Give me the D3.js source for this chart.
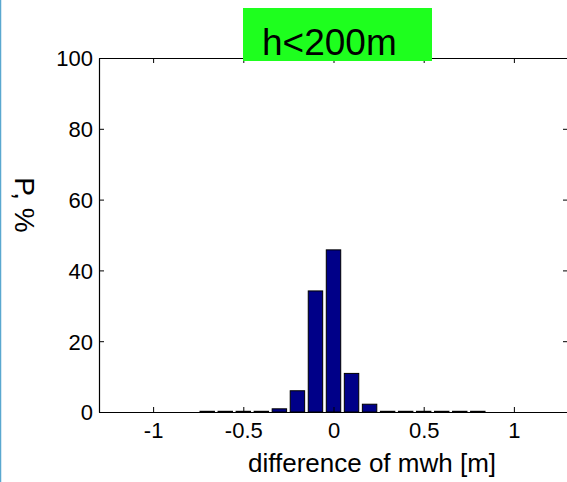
<!DOCTYPE html>
<html>
<head>
<meta charset="utf-8">
<script src="https://cdn.jsdelivr.net/npm/d3@7"></script>
<style>
  body { margin: 0; background: #fff; }
  svg { display: block; font-family: "Liberation Sans", Arial, sans-serif; }
</style>
</head>
<body>
<svg id="chart"></svg>
<script>
// histogram bins (centres, m) and share of points (%)
const binCentres = [-0.7, -0.6, -0.5, -0.4, -0.3, -0.2, -0.1, 0, 0.1, 0.2, 0.3, 0.4, 0.5, 0.6, 0.7, 0.8];
const binValues  = [0.2, 0.2, 0.2, 0.2, 0.9, 6.0, 34.2, 45.8, 10.9, 2.2, 0.2, 0.2, 0.2, 0.2, 0.2, 0.2];
const xTicks = [-1, -0.5, 0, 0.5, 1];
const yTicks = [0, 20, 40, 60, 80, 100];
const titleText = "h<200m";
const xLabel = "difference of mwh [m]";
const yLabel = "P, %";

const width = 567, height = 482;
const binWidth = 0.1;

const svg = d3.select("#chart")
    .attr("width", width)
    .attr("height", height);

const x = d3.scaleLinear().domain([-1.3, 1.3]).range([99, 568]);
const y = d3.scaleLinear().domain([0, 100]).range([412, 58]);

// slide border on the left
svg.append("line")
    .attr("x1", 0.5).attr("x2", 0.5)
    .attr("y1", 0).attr("y2", height)
    .attr("stroke", "#5aa8d0")
    .attr("stroke-width", 1.5);

// bars
svg.selectAll(".bar")
    .data(binCentres.map((c, i) => ({ c, v: binValues[i] })))
    .join("rect")
    .attr("class", "bar")
    .attr("x", d => x(d.c - binWidth * 0.4))
    .attr("width", d => x(d.c + binWidth * 0.4) - x(d.c - binWidth * 0.4))
    .attr("y", d => y(d.v))
    .attr("height", d => y(0) - y(d.v))
    .attr("fill", "#000088")
    .attr("stroke", "#000")
    .attr("stroke-width", 1);

// axes, ticks pointing inward
const axisStyle = g => {
    g.select(".domain").attr("stroke", "#000").attr("stroke-width", 1.2);
    g.selectAll(".tick line").attr("stroke", "#000");
};
const plain = d => String(d); // hyphen minus, as in the original

svg.append("g")
    .attr("transform", `translate(0,${y(0)})`)
    .call(d3.axisBottom(x).tickValues(xTicks).tickSizeInner(-5).tickSizeOuter(0).tickFormat(plain))
    .call(axisStyle)
    .call(g => g.selectAll(".tick text")
        .attr("fill", "#000")
        .attr("font-size", 22)
        .attr("y", 26)
        .attr("dy", null));

svg.append("g")
    .attr("transform", `translate(0,${y(100)})`)
    .call(d3.axisTop(x).tickValues(xTicks).tickSizeInner(-5).tickSizeOuter(0).tickFormat(""))
    .call(axisStyle);

svg.append("g")
    .attr("transform", `translate(${x(-1.3)},0)`)
    .call(d3.axisLeft(y).tickValues(yTicks).tickSizeInner(-5).tickSizeOuter(0).tickFormat(plain))
    .call(axisStyle)
    .call(g => g.selectAll(".tick text")
        .attr("fill", "#000")
        .attr("font-size", 22)
        .attr("x", -6)
        .attr("dy", "0.36em"));

svg.append("g")
    .attr("transform", `translate(${x(1.3) + 1},0)`)
    .call(d3.axisRight(y).tickValues(yTicks).tickSizeInner(-6).tickSizeOuter(0).tickFormat(""))
    .call(axisStyle);

// title box
svg.append("rect")
    .attr("x", 243).attr("y", 8)
    .attr("width", 189).attr("height", 53)
    .attr("fill", "#1eff1e");

svg.append("text")
    .attr("x", 262).attr("y", 55)
    .attr("font-size", 37)
    .attr("fill", "#000")
    .text(titleText);

// axis labels
svg.append("text")
    .attr("x", 372).attr("y", 472)
    .attr("text-anchor", "middle")
    .attr("font-size", 26)
    .attr("fill", "#000")
    .text(xLabel);

svg.append("text")
    .attr("transform", "translate(15,205) rotate(90)")
    .attr("text-anchor", "middle")
    .attr("font-size", 28)
    .attr("fill", "#000")
    .text(yLabel);
</script>
</body>
</html>
